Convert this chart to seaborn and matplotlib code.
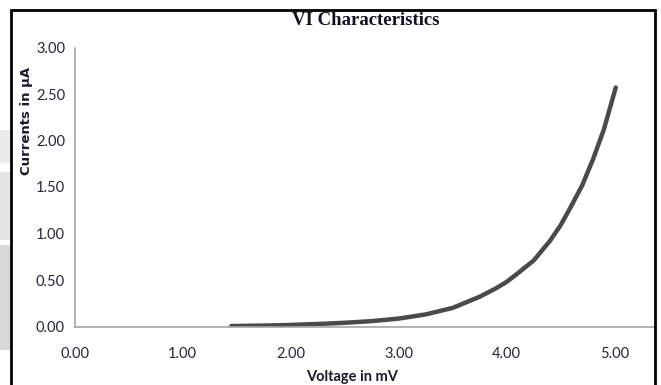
import matplotlib
matplotlib.use("Agg")
import matplotlib.pyplot as plt
import seaborn as sns
import numpy as np
from matplotlib.patches import Rectangle
from matplotlib.ticker import FormatStrFormatter

# Data
voltage = [1.45, 1.75, 2.0, 2.25, 2.5, 2.75, 3.0, 3.25, 3.5, 3.75, 3.9, 4.0, 4.1, 4.25,
           4.4, 4.5, 4.6, 4.7, 4.8, 4.9, 5.01]
current = [0.005, 0.010, 0.017, 0.027, 0.040, 0.058, 0.085, 0.13, 0.20, 0.32, 0.41, 0.48, 0.57, 0.71,
           0.92, 1.09, 1.30, 1.52, 1.80, 2.12, 2.57]
x_ticks = [0, 1, 2, 3, 4, 5]
y_ticks = [0, 0.5, 1.0, 1.5, 2.0, 2.5, 3.0]

title = "VI Characteristics"
xlabel = "Voltage in mV"
ylabel = "Currents in μA"

sns.set_style("white")
plt.rcParams['font.family'] = ['Lato', 'DejaVu Sans']

W, H = 661, 385
fig = plt.figure(figsize=(W / 100, H / 100), dpi=100)
fig.patch.set_facecolor("white")

left_px, right_px, top_px, bottom_px = 74.7, 655.0, 47.5, 326.5
ax = fig.add_axes([left_px / W, 1 - bottom_px / H,
                   (right_px - left_px) / W, (bottom_px - top_px) / H])

sns.lineplot(x=voltage, y=current, ax=ax, color="#4a4a4a", linewidth=3.2)

ax.set_xlim(0, (right_px - left_px) / 108.0)
ax.set_ylim(0, 3.0)
ax.set_xticks(x_ticks)
ax.set_yticks(y_ticks)
ax.xaxis.set_major_formatter(FormatStrFormatter('%.2f'))
ax.yaxis.set_major_formatter(FormatStrFormatter('%.2f'))

for s in ["top", "right"]:
    ax.spines[s].set_visible(False)
for s in ["left", "bottom"]:
    ax.spines[s].set_color("#a6a6a6")
    ax.spines[s].set_linewidth(1.2)

ax.tick_params(axis="both", direction="out", length=4, width=1, color="#a6a6a6",
               labelsize=10.5, labelcolor="#26263a", pad=3)
ax.tick_params(axis="x", pad=11)

ax.set_xlabel(xlabel, fontsize=10.5, fontweight="bold", color="#1a1a2a", va="center")
ax.xaxis.set_label_coords((352 - left_px) / (right_px - left_px),
                          (bottom_px - 377) / (bottom_px - top_px))
ax.set_ylabel(ylabel, fontsize=9.5, fontweight="bold", color="#1a1a2a", va="center",
              fontfamily=["DejaVu Sans"])
ax.yaxis.set_label_coords((26.5 - left_px) / (right_px - left_px),
                          (bottom_px - 121) / (bottom_px - top_px))

ax.set_title(title, fontfamily="Liberation Serif", fontweight="bold", fontsize=13.5,
             color="#111122", va="center", pad=0,
             x=(366 - left_px) / (right_px - left_px),
             y=(bottom_px - 20.5) / (bottom_px - top_px))

# gray background strips left of the frame
for (y0, y1, c) in [(130, 163, "#ececec"), (172, 240, "#e4e4e4"), (245, 350, "#d9d9d9")]:
    fig.patches.append(Rectangle((0, 1 - y1 / H), 11 / W, (y1 - y0) / H,
                                 transform=fig.transFigure, facecolor=c,
                                 edgecolor="none", zorder=0))

# black frame
fig.patches.append(Rectangle((11 / W, -0.05), (655 - 11) / W, 1.05 - 10 / H,
                             transform=fig.transFigure, fill=False,
                             edgecolor="black", linewidth=2, zorder=10))

fig.savefig("out.png", dpi=100)
